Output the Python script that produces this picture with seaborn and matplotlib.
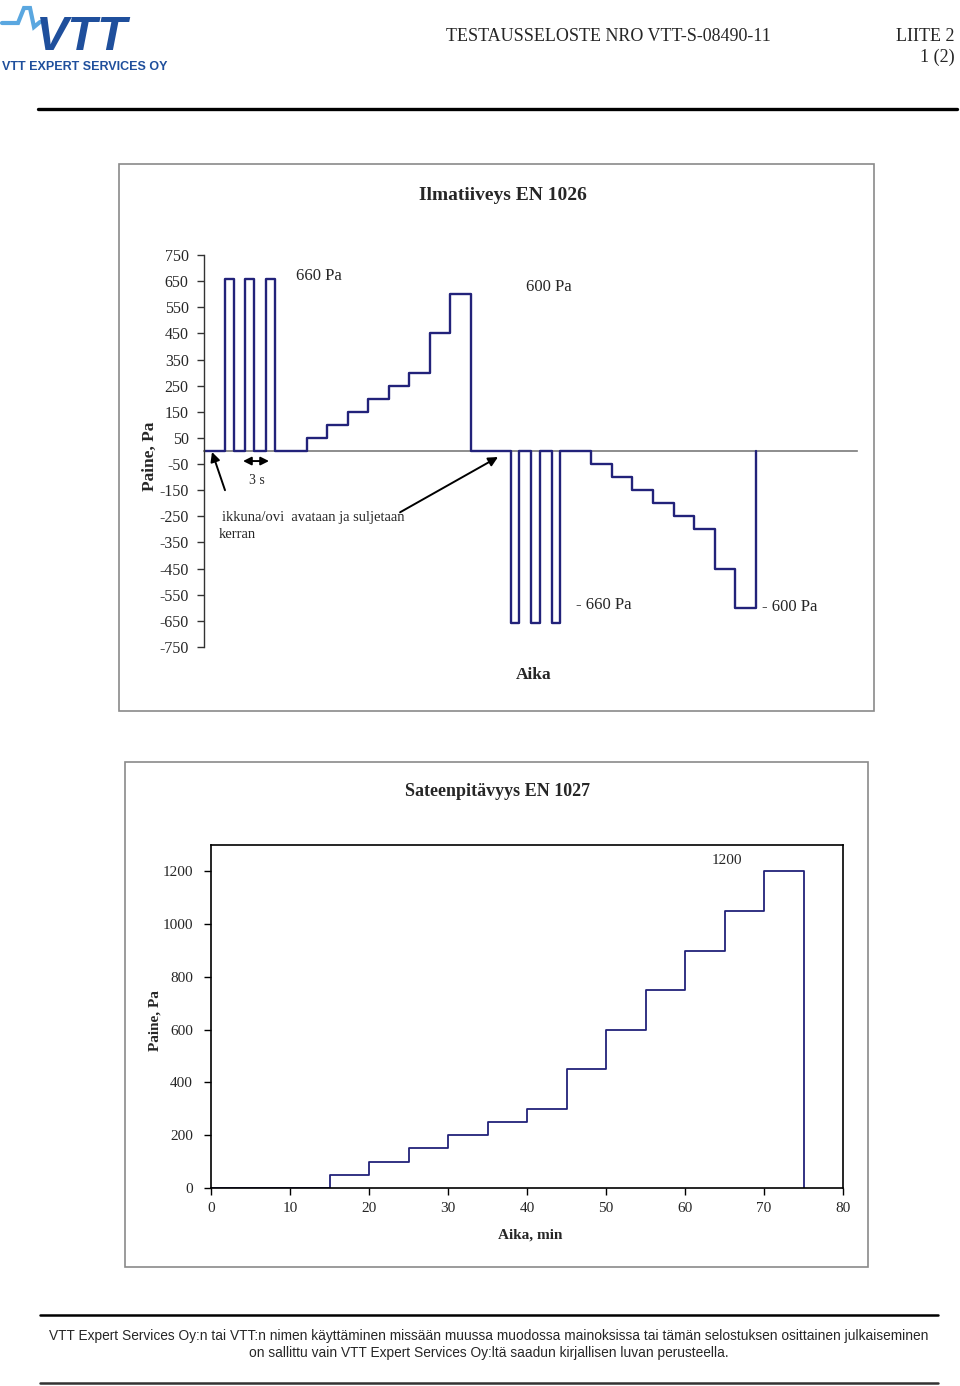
import matplotlib
matplotlib.use("Agg")
import matplotlib.pyplot as plt
from matplotlib.patches import Rectangle
from matplotlib.lines import Line2D
import numpy as np
import pandas as pd
import seaborn as sns

# ---- data -------------------------------------------------------------
# EN 1026 air permeability sequence (schematic, time in arbitrary step units)
air_time = [0, 1.0, 1.45, 2.0, 2.45, 3.0, 3.45,
            5, 6, 7, 8, 9, 10, 11, 12, 13,
            14.95, 15.37, 15.95, 16.37, 16.95, 17.37,
            18.9, 19.9, 20.9, 21.9, 22.9, 23.9, 24.9, 25.9, 26.9]
air_pressure = [0, 660, 0, 660, 0, 660, 0,
                50, 100, 150, 200, 250, 300, 450, 600, 0,
                -660, 0, -660, 0, -660, 0,
                -50, -100, -150, -200, -250, -300, -450, -600, 0]
air_yticks = [750, 650, 550, 450, 350, 250, 150, 50,
              -50, -150, -250, -350, -450, -550, -650, -750]

# EN 1027 watertightness sequence
rain_time = [0, 15, 20, 25, 30, 35, 40, 45, 50, 55, 60, 65, 70, 75]
rain_pressure = [0, 50, 100, 150, 200, 250, 300, 450, 600, 750, 900, 1050, 1200, 0]
rain_xticks = [0, 10, 20, 30, 40, 50, 60, 70, 80]
rain_yticks = [0, 200, 400, 600, 800, 1000, 1200]

air_df = pd.DataFrame({"aika": air_time, "paine": air_pressure})
rain_df = pd.DataFrame({"aika": rain_time, "paine": rain_pressure})

# ---- figure setup -----------------------------------------------------
sns.set_style("white")
plt.rcParams["font.family"] = ["Liberation Serif", "DejaVu Serif"]
plt.rcParams["axes.unicode_minus"] = False

W, H = 960, 1386
fig = plt.figure(figsize=(W / 100, H / 100), dpi=100)
fig.patch.set_facecolor("white")


def fx(x):
    return x / W


def fy(y):
    return 1 - y / H


def rect(x0, y0, x1, y1):
    return [fx(x0), fy(y1), fx(x1) - fx(x0), fy(y0) - fy(y1)]


line_col = "#22227a"

# ---- header -----------------------------------------------------------
logo_blue = "#1f4f9c"
light_blue = "#5aa7e0"
fig.add_artist(Line2D([fx(2), fx(18), fx(24), fx(30), fx(34), fx(40)],
                      [fy(23), fy(23), fy(8), fy(8), fy(27), fy(22)],
                      color=light_blue, lw=3, solid_joinstyle="miter"))
fig.text(fx(36), fy(50), "VTT", fontsize=35, fontweight="bold", fontstyle="italic",
         color=logo_blue, family=["Liberation Sans", "DejaVu Sans"], va="baseline")
fig.text(fx(2), fy(70), "VTT EXPERT SERVICES OY", fontsize=9, fontweight="bold",
         color=logo_blue, family=["Liberation Sans", "DejaVu Sans"], va="baseline")
fig.text(fx(446), fy(41), "TESTAUSSELOSTE NRO VTT-S-08490-11", fontsize=13, va="baseline")
fig.text(fx(955), fy(41), "LIITE 2", fontsize=13, ha="right", va="baseline")
fig.text(fx(955), fy(62), "1 (2)", fontsize=13, ha="right", va="baseline")
fig.add_artist(Line2D([fx(38), fx(957)], [fy(109), fy(109)], color="black", lw=2.4))

# ---- chart frames -----------------------------------------------------
fig.add_artist(Rectangle((fx(119), fy(711)), fx(874) - fx(119), fy(164) - fy(711),
                         transform=fig.transFigure, fill=False, edgecolor="#8a8a8a", lw=1.2))
fig.add_artist(Rectangle((fx(125), fy(1267)), fx(868) - fx(125), fy(762) - fy(1267),
                         transform=fig.transFigure, fill=False, edgecolor="#8a8a8a", lw=1.2))

# ---- top chart: Ilmatiiveys EN 1026 ------------------------------------
ax1 = fig.add_axes(rect(204, 255, 857, 647))
sns.lineplot(data=air_df, x="aika", y="paine", ax=ax1, color=line_col, lw=1.7,
             drawstyle="steps-post", sort=False, estimator=None)
ax1.set_xlim(0, 31.85)
ax1.set_ylim(-750, 750)
ax1.set_yticks(air_yticks)
ax1.set_xticks([])
ax1.set_xlabel("")
ax1.set_ylabel("")
for s in ["top", "right"]:
    ax1.spines[s].set_visible(False)
ax1.spines["left"].set_color("#333333")
ax1.spines["left"].set_linewidth(1.0)
ax1.spines["bottom"].set_position(("data", 0))
ax1.spines["bottom"].set_color("#7a7a7a")
ax1.spines["bottom"].set_linewidth(1.2)
ax1.spines["bottom"].set_zorder(0)
ax1.tick_params(axis="y", direction="out", length=5, width=1, color="#333333",
                labelsize=11.5, pad=6, left=True)
ax1.set_facecolor("none")

fig.text(fx(503), fy(196), "Ilmatiiveys EN 1026", fontsize=14, fontweight="bold",
         ha="center", va="center")
fig.text(fx(150), fy(456), "Paine, Pa", fontsize=12.5, fontweight="bold",
         rotation=90, ha="center", va="center")
fig.text(fx(534), fy(675), "Aika", fontsize=12.5, fontweight="bold", ha="center", va="center")
fig.text(fx(296), fy(276), "660 Pa", fontsize=12, ha="left", va="center")
fig.text(fx(526), fy(287), "600 Pa", fontsize=12, ha="left", va="center")
fig.text(fx(576), fy(605), "- 660 Pa", fontsize=12, ha="left", va="center")
fig.text(fx(762), fy(607), "- 600 Pa", fontsize=12, ha="left", va="center")
fig.text(fx(249), fy(481), "3 s", fontsize=10, ha="left", va="center")
fig.text(fx(222), fy(517), "ikkuna/ovi  avataan ja suljetaan", fontsize=10.5,
         ha="left", va="center")
fig.text(fx(219), fy(535), "kerran", fontsize=10.5, ha="left", va="center")


def to_air(px, py):
    return (px - 204) / 20.5, (451 - py) / 26 * 100


arrow_kw = dict(arrowstyle="-|>", color="black", lw=1.4, mutation_scale=14, shrinkA=0, shrinkB=0)
ax1.annotate("", xy=to_air(212, 452), xytext=to_air(225, 490), arrowprops=arrow_kw)
ax1.annotate("", xy=to_air(498, 457), xytext=to_air(400, 512), arrowprops=arrow_kw)
ax1.annotate("", xy=to_air(243, 461), xytext=to_air(269, 461),
             arrowprops=dict(arrowstyle="<|-|>", color="black", lw=1.4,
                             mutation_scale=12, shrinkA=0, shrinkB=0))

# ---- bottom chart: Sateenpitavyys EN 1027 -----------------------------
ax2 = fig.add_axes(rect(211, 845, 843, 1188))
sns.lineplot(data=rain_df, x="aika", y="paine", ax=ax2, color=line_col, lw=1.3,
             drawstyle="steps-post", sort=False, estimator=None)
ax2.set_xlim(0, 80)
ax2.set_ylim(0, 1300)
ax2.set_xticks(rain_xticks)
ax2.set_yticks(rain_yticks)
ax2.set_xlabel("")
ax2.set_ylabel("")
for s in ax2.spines.values():
    s.set_visible(True)
    s.set_color("black")
    s.set_linewidth(1.2)
ax2.tick_params(axis="both", direction="out", length=5, width=1, color="black",
                labelsize=11, bottom=True, left=True)
ax2.tick_params(axis="x", pad=5)
ax2.tick_params(axis="y", pad=8)

fig.text(fx(498), fy(792), "Sateenpitävyys EN 1027", fontsize=13, fontweight="bold",
         ha="center", va="center")
fig.text(fx(155), fy(1021), "Paine, Pa", fontsize=11, fontweight="bold",
         rotation=90, ha="center", va="center")
fig.text(fx(530), fy(1235), "Aika, min", fontsize=11, fontweight="bold",
         ha="center", va="center")
fig.text(fx(727), fy(860), "1200", fontsize=11, ha="center", va="center")

# ---- footer -----------------------------------------------------------
fig.add_artist(Line2D([fx(40), fx(938)], [fy(1315), fy(1315)], color="black", lw=1.8))
fig.add_artist(Line2D([fx(40), fx(938)], [fy(1383), fy(1383)], color="#333333", lw=1.8))
foot_font = ["Liberation Sans", "DejaVu Sans"]
fig.text(fx(489), fy(1336),
         "VTT Expert Services Oy:n tai VTT:n nimen käyttäminen missään muussa muodossa "
         "mainoksissa tai tämän selostuksen osittainen julkaiseminen",
         fontsize=9.9, family=foot_font, ha="center", va="center")
fig.text(fx(489), fy(1353),
         "on sallittu vain VTT Expert Services Oy:ltä saadun kirjallisen luvan perusteella.",
         fontsize=9.9, family=foot_font, ha="center", va="center")

fig.savefig("out.png", dpi=100, facecolor="white")
